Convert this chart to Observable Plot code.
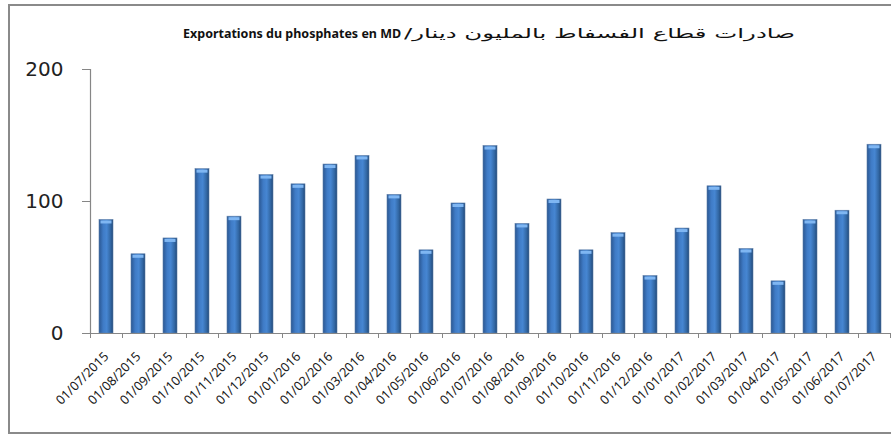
<!DOCTYPE html>
<html>
<head>
<meta charset="utf-8">
<script src="https://cdn.jsdelivr.net/npm/d3@7"></script>
<script src="https://cdn.jsdelivr.net/npm/@observablehq/plot@0.6"></script>
<style>
  html, body { margin: 0; padding: 0; background: #fff; }
  #wrap { position: relative; width: 891px; height: 438px; overflow: hidden; }
  #frame { position: absolute; left: 8px; top: 4px; width: 900px; height: 430px; border: 2px solid #8a8a8a; box-sizing: border-box; }
  .title { position: absolute; top: 25px; font: bold 12.5px "Noto Sans", sans-serif; color: #111; white-space: nowrap; line-height: 18px; }
  #titleAr { font: 13.5px "DejaVu Sans", sans-serif; transform-origin: left center; display: inline-block; }
  #chart { position: absolute; left: 0; top: 0; }
  [aria-label="y-axis tick label"] { font-family: "DejaVu Sans", sans-serif; font-size: 20px; }
  [aria-label="x-axis tick label"] { font-family: "Noto Sans", sans-serif; font-size: 12.8px; }
</style>
</head>
<body>
<div id="wrap">
  <div id="frame"></div>
  <div id="chart"></div>
  <div class="title" id="titleLat" style="left:183px">Exportations du phosphates en MD</div>
  <div class="title" id="titleAr" dir="rtl" style="left:404px">صادرات قطاع الفسفاط بالمليون دينار/</div>
</div>
<script>
const months = ["01/07/2015","01/08/2015","01/09/2015","01/10/2015","01/11/2015","01/12/2015",
  "01/01/2016","01/02/2016","01/03/2016","01/04/2016","01/05/2016","01/06/2016","01/07/2016",
  "01/08/2016","01/09/2016","01/10/2016","01/11/2016","01/12/2016","01/01/2017","01/02/2017",
  "01/03/2017","01/04/2017","01/05/2017","01/06/2017","01/07/2017"];
const exportsMD = [86, 60, 72, 124.5, 88.5, 120, 113, 128, 134.5, 105, 63, 98.5, 142,
  83, 101.5, 63, 76, 43.5, 79.5, 111.5, 64, 39.5, 86, 93, 143];
const yTicks = [0, 100, 200];

const data = months.map((m, i) => ({i, month: m, value: exportsMD[i]}));

const plot = Plot.plot({
  width: 891,
  height: 438,
  marginLeft: 90,
  marginRight: 1,
  marginTop: 69,
  marginBottom: 105,
  style: {background: "transparent", overflow: "visible"},
  x: {domain: [0, months.length], axis: null},
  y: {domain: [0, 200], axis: null},
  marks: [
    Plot.rectY(data, {x1: "i", x2: d => d.i + 1, y: "value", insetLeft: 9, insetRight: 9,
      fill: "url(#barGrad)", stroke: "#5f7fa8", strokeWidth: 0.6}),
    Plot.ruleY(data, {x1: "i", x2: d => d.i + 1, y: "value", insetLeft: 10.5, insetRight: 10.5, dy: 2,
      stroke: "#7fb6f2", strokeWidth: 3}),
    Plot.ruleX([0], {stroke: "#868686", strokeWidth: 1.2}),
    Plot.ruleY([0], {stroke: "#868686", strokeWidth: 1.2}),
    Plot.axisY({ticks: yTicks, tickSize: 8, tickPadding: 19, stroke: "#868686", label: null,
      fill: "#222", tickFormat: d => String(d)}),
    Plot.axisX({ticks: d3.range(months.length + 1), tickSize: 5, stroke: "#868686", label: null,
      tickFormat: () => ""}),
    Plot.axisX({ticks: data.map(d => d.i + 0.5), tickSize: 0, tickPadding: 21, tickRotate: -45, label: null,
      tickFormat: d => months[Math.floor(d)], fill: "#1a1a1a"})
  ]
});

const ns = "http://www.w3.org/2000/svg";
const defs = document.createElementNS(ns, "defs");
const grad = document.createElementNS(ns, "linearGradient");
grad.setAttribute("id", "barGrad");
grad.setAttribute("x1", "0"); grad.setAttribute("x2", "1");
grad.setAttribute("y1", "0"); grad.setAttribute("y2", "0");
[["0%", "#2a5792"], ["30%", "#3f7bc6"], ["55%", "#4686d2"], ["85%", "#30649f"], ["100%", "#1f4677"]].forEach(([o, c]) => {
  const s = document.createElementNS(ns, "stop");
  s.setAttribute("offset", o); s.setAttribute("stop-color", c);
  grad.appendChild(s);
});
defs.appendChild(grad);
plot.insertBefore(defs, plot.firstChild);
document.getElementById("chart").appendChild(plot);

// stretch the Arabic part of the title to the reference width
const ar = document.getElementById("titleAr");
const w = ar.getBoundingClientRect().width;
ar.style.transform = `scaleX(${(795 - 404) / w})`;
</script>
</body>
</html>
